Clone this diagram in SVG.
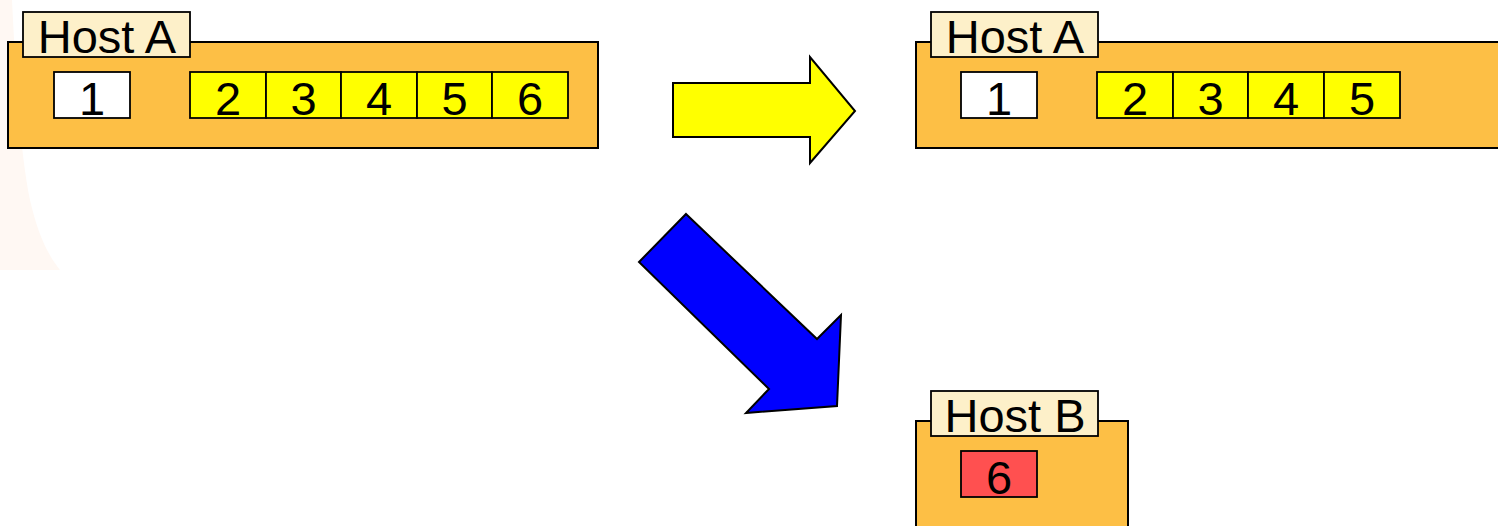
<svg xmlns="http://www.w3.org/2000/svg" width="1498" height="526" viewBox="0 0 1498 526">
  <style>
    .host { fill: #fdbf45; stroke: #000; stroke-width: 2; }
    .tab { fill: #fdf0c9; stroke: #000; stroke-width: 1.8; }
    .pkt { stroke: #000; stroke-width: 1.8; }
    .free { fill: #ffffff; }
    .queued { fill: #ffff00; }
    .lost { fill: #ff5050; }
    text { font-family: "Liberation Sans", Arial, sans-serif; fill: #000; text-anchor: middle; }
    .lbl { font-size: 47px; }
    .num { font-size: 47px; }
    .arrow { stroke: #000; stroke-width: 2; stroke-linejoin: miter; }
  </style>

  <rect width="1498" height="526" fill="#ffffff"/>
  <!-- faint background wash at the left edge -->
  <path d="M0 0 L12 0 C16 80 20 150 30 200 C38 235 48 255 60 270 L0 270 Z" fill="#fff8f3"/>

  <g id="hostA-before">
    <rect class="host" x="8" y="42" width="590" height="106"/>
    <rect class="tab" x="23" y="12" width="167" height="45"/>
    <text class="lbl" x="107" y="53">Host A</text>
    <rect class="pkt free" x="54" y="72" width="76" height="46"/>
    <text class="num" x="92" y="115">1</text>
    <rect class="pkt queued" x="190" y="72" width="76" height="46"/>
    <rect class="pkt queued" x="266" y="72" width="75" height="46"/>
    <rect class="pkt queued" x="341" y="72" width="76" height="46"/>
    <rect class="pkt queued" x="417" y="72" width="75" height="46"/>
    <rect class="pkt queued" x="492" y="72" width="76" height="46"/>
    <text class="num" x="228" y="115">2</text>
    <text class="num" x="303.5" y="115">3</text>
    <text class="num" x="379" y="115">4</text>
    <text class="num" x="454.5" y="115">5</text>
    <text class="num" x="530" y="115">6</text>
  </g>

  <g id="hostA-after">
    <rect class="host" x="916" y="42" width="590" height="106"/>
    <rect class="tab" x="931" y="12" width="167" height="45"/>
    <text class="lbl" x="1015" y="53">Host A</text>
    <rect class="pkt free" x="961" y="72" width="76" height="46"/>
    <text class="num" x="999" y="115">1</text>
    <rect class="pkt queued" x="1097" y="72" width="76" height="46"/>
    <rect class="pkt queued" x="1173" y="72" width="75" height="46"/>
    <rect class="pkt queued" x="1248" y="72" width="76" height="46"/>
    <rect class="pkt queued" x="1324" y="72" width="76" height="46"/>
    <text class="num" x="1135" y="115">2</text>
    <text class="num" x="1210.5" y="115">3</text>
    <text class="num" x="1286" y="115">4</text>
    <text class="num" x="1362" y="115">5</text>
  </g>

  <g id="hostB">
    <rect class="host" x="916" y="421" width="212" height="120"/>
    <rect class="tab" x="931" y="391" width="167" height="45"/>
    <text class="lbl" x="1015" y="432">Host B</text>
    <rect class="pkt lost" x="961" y="451" width="76" height="46"/>
    <text class="num" x="999" y="494">6</text>
  </g>

  <g id="connectors">
    <!-- block arrow: queue keeps packets 2-5 -->
    <path class="arrow" fill="#ffff00" d="M673 83 L810 83 L810 57 L855 111 L810 163 L810 137 L673 137 Z"/>
    <!-- block arrow: packet 6 handed to Host B -->
    <path class="arrow" fill="#0000ff" d="M686 214 L817 339 L841 315 L837 406 L746 413 L769 389 L639 262 Z"/>
  </g>
</svg>
